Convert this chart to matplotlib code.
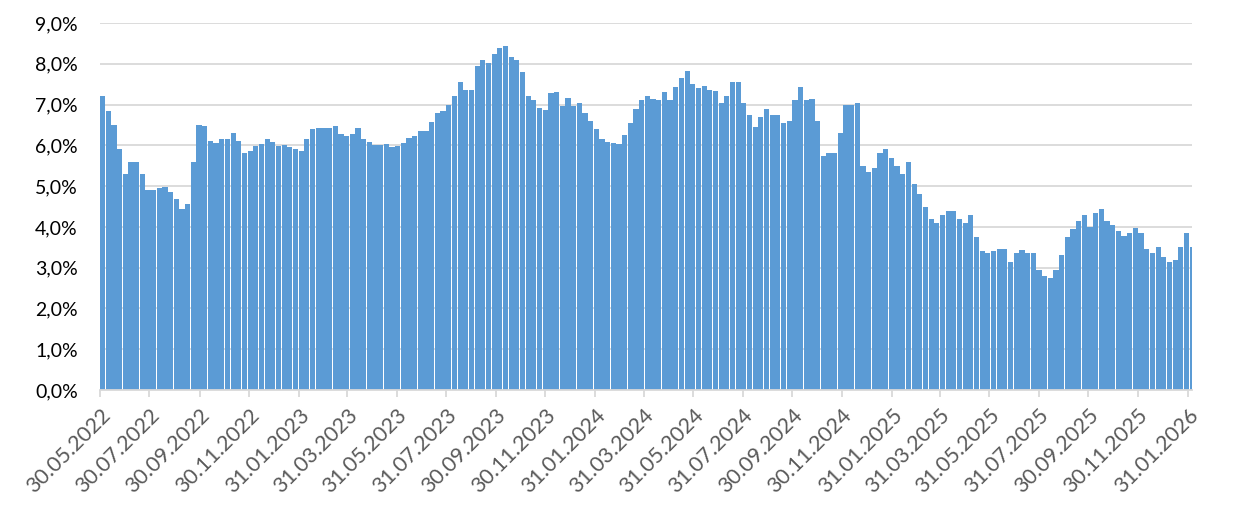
import pandas as pd
import matplotlib
matplotlib.use('Agg')
import matplotlib.pyplot as plt
import matplotlib.dates as mdates

# weekly values (%), first week starts Mon 30.05.2022
start_date = '2022-05-30'
week_values = [
    7.2, 6.85, 6.5, 5.9, 5.3, 5.58, 5.6, 5.3, 4.9, 4.9, 4.95, 4.97, 4.85, 4.68, 4.45, 4.55,
    5.6, 6.5, 6.48, 6.1, 6.05, 6.15, 6.15, 6.3, 6.1, 5.8, 5.85, 5.99, 6.03, 6.15, 6.08, 5.98,
    6.0, 5.95, 5.92, 5.87, 6.15, 6.4, 6.43, 6.42, 6.42, 6.47, 6.28, 6.24, 6.28, 6.42, 6.15, 6.08,
    6.01, 6.02, 6.04, 5.96, 5.98, 6.05, 6.17, 6.24, 6.35, 6.35, 6.58, 6.8, 6.83, 7.0, 7.2, 7.55,
    7.35, 7.35, 7.95, 8.1, 8.03, 8.25, 8.38, 8.43, 8.17, 8.1, 7.8, 7.2, 7.1, 6.92, 6.87, 7.28,
    7.3, 6.97, 7.15, 6.97, 7.05, 6.8, 6.6, 6.4, 6.16, 6.08, 6.05, 6.03, 6.25, 6.55, 6.88,
    7.1, 7.2, 7.13, 7.11, 7.3, 7.1, 7.44, 7.65, 7.82, 7.5, 7.4, 7.45, 7.35, 7.33, 7.05, 7.2,
    7.55, 7.55, 7.05, 6.75, 6.45, 6.7, 6.9, 6.75, 6.75, 6.55, 6.6, 7.1, 7.42, 7.12, 7.13, 6.6,
    5.75, 5.8, 5.8, 6.3, 6.98, 6.98, 7.05, 5.5, 5.35, 5.45, 5.8, 5.9, 5.7, 5.5, 5.3, 5.6,
    5.05, 4.8, 4.5, 4.2, 4.1, 4.3, 4.39, 4.4, 4.2, 4.1, 4.3, 3.75, 3.4, 3.35, 3.4, 3.45,
    3.45, 3.15, 3.35, 3.43, 3.35, 3.35, 2.95, 2.79, 2.75, 2.95, 3.3, 3.75, 3.95, 4.15, 4.3, 4.0,
    4.35, 4.45, 4.15, 4.05, 3.9, 3.77, 3.85, 3.98, 3.85, 3.45, 3.35, 3.5, 3.25, 3.14, 3.18, 3.5,
    3.85, 3.5,
]

tick_dates = ['30.05.2022', '30.07.2022', '30.09.2022', '30.11.2022', '31.01.2023', '31.03.2023',
              '31.05.2023', '31.07.2023', '30.09.2023', '30.11.2023', '31.01.2024', '31.03.2024',
              '31.05.2024', '31.07.2024', '30.09.2024', '30.11.2024', '31.01.2025', '31.03.2025',
              '31.05.2025', '31.07.2025', '30.09.2025', '30.11.2025', '31.01.2026']
y_ticks = [0, 1, 2, 3, 4, 5, 6, 7, 8, 9]

plt.rcParams['font.family'] = ['Lato', 'DejaVu Sans']

weeks = pd.date_range(start_date, periods=len(week_values), freq='7D')
ticks = pd.to_datetime(tick_dates, format='%d.%m.%Y')

fig = plt.figure(figsize=(12.36, 5.18), dpi=100)
ax = fig.add_axes([100 / 1236, 1 - 390 / 518, 1092 / 1236, 367 / 518])

ax.bar(weeks, week_values, width=6.4, align='edge', color='#5B9BD5', linewidth=0, zorder=2)

x0 = mdates.date2num(pd.Timestamp(start_date))
ax.set_xlim(x0, x0 + 1347)
ax.set_ylim(0, 9)
ax.set_yticks(y_ticks)
ax.set_yticklabels(['%d,0%%' % v for v in y_ticks])
ax.set_xticks(ticks)
ax.set_xticklabels(tick_dates, rotation=45, ha='right', rotation_mode='anchor')

ax.grid(axis='y', color='#D9D9D9', linewidth=1.3, zorder=0)
ax.set_axisbelow(True)
for s in ['top', 'right', 'left']:
    ax.spines[s].set_visible(False)
ax.spines['bottom'].set_color('#D9D9D9')
ax.spines['bottom'].set_linewidth(1.3)
ax.spines['bottom'].set_zorder(3)

ax.tick_params(axis='y', length=0, pad=16, labelsize=14, labelcolor='#000000')
ax.tick_params(axis='x', length=5, width=1.3, color='#D9D9D9', pad=6, labelsize=15.5, labelcolor='#595959')

plt.savefig('out.png', dpi=100)
plt.close()
